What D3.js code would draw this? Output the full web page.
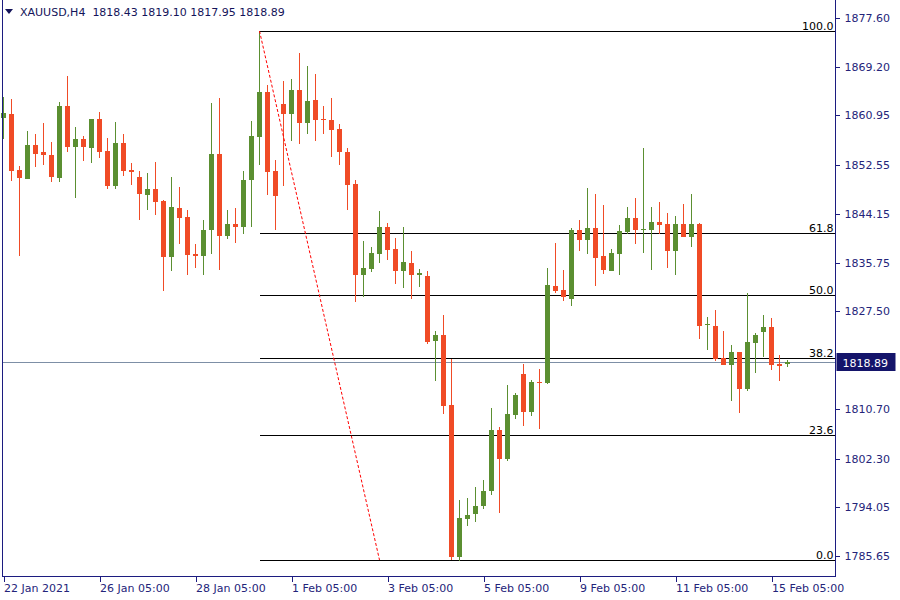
<!DOCTYPE html>
<html><head><meta charset="utf-8">
<script src="https://cdn.jsdelivr.net/npm/d3@7"></script>
<style>
html,body{margin:0;padding:0;background:#fff;}
svg{display:block;font-family:"DejaVu Sans",Tahoma,sans-serif;}
</style></head>
<body><svg id="c" width="900" height="600"></svg>
<script>
const symbol = "XAUUSD,H4";
const open = [
1860.56,1861.19,1851.6,1850.1,1855.9,1854.7,1854.2,1850.3,1862.6,1855.6,
1856.9,1855.3,1860.3,1854.9,1848.9,1856.2,1851.6,1850.4,1847.4,1848.4,
1846.4,1836.8,1845.1,1843.6,1837.3,1837.0,1841.3,1854.4,1840.4,1842.4,
1841.8,1849.9,1857.3,1865.0,1851.4,1862.9,1861.2,1865.3,1859.7,1863.6,
1860.3,1860.2,1858.7,1854.7,1849.2,1833.7,1834.7,1837.3,1841.9,1838.1,
1834.4,1835.7,1833.6,1833.5,1822.4,1823.4,1811.5,1785.4,1792.0,1792.9,
1794.2,1796.8,1807.2,1802.3,1809.8,1816.8,1810.3,1815.4,1815.2,1831.8,
1831.1,1829.5,1841.4,1839.7,1841.7,1836.9,1834.4,1837.3,1841.1,1843.4,
1841.3,1841.3,1842.7,1842.4,1837.7,1842.4,1840.2,1842.4,1825.1,1825.0,
1819.5,1818.3,1820.5,1814.2,1822.1,1824.0,1824.8,1818.5,1818.43];
const high = [
1864.1,1863.8,1852.3,1858.3,1857.8,1859.7,1856.4,1863.2,1867.7,1859.0,
1857.4,1860.4,1861.5,1857.1,1859.8,1857.8,1852.8,1851.5,1851.1,1853.0,
1846.5,1850.4,1848.7,1844.8,1839.0,1843.1,1863.1,1863.9,1844.8,1845.1,
1851.5,1860.0,1875.38,1866.1,1853.3,1866.8,1867.2,1871.6,1869.4,1868.0,
1862.6,1863.9,1859.5,1855.4,1849.9,1839.5,1838.5,1844.6,1842.6,1840.0,
1841.9,1837.8,1834.7,1834.4,1824.1,1826.8,1819.3,1795.2,1795.6,1797.4,
1798.6,1810.9,1807.7,1814.9,1813.5,1818.5,1815.7,1817.6,1834.9,1839.1,
1834.5,1841.7,1843.1,1848.5,1847.5,1845.6,1838.1,1842.2,1845.3,1846.8,
1855.4,1845.3,1846.2,1844.3,1843.8,1845.8,1847.5,1842.6,1826.5,1827.7,
1824.1,1821.7,1820.6,1830.6,1823.8,1826.8,1826.3,1820.0,1819.10];
const low = [
1856.9,1849.8,1837.0,1850.0,1852.2,1852.5,1849.5,1849.6,1854.7,1846.9,
1853.2,1852.9,1853.6,1848.3,1848.4,1850.6,1849.1,1843.0,1844.8,1844.0,
1831.0,1834.4,1838.9,1833.6,1834.8,1833.7,1837.3,1834.6,1839.9,1839.2,
1840.6,1841.9,1852.5,1847.3,1841.3,1848.9,1856.6,1856.1,1857.7,1856.5,
1857.8,1853.9,1852.4,1844.7,1829.1,1830.0,1834.2,1835.8,1836.3,1832.2,
1831.5,1829.5,1831.7,1821.8,1815.6,1810.0,1784.97,1784.8,1790.8,1791.5,
1793.6,1796.0,1793.0,1801.9,1809.1,1807.9,1809.6,1807.4,1815.0,1830.6,
1829.3,1828.4,1837.8,1837.3,1831.8,1833.9,1834.4,1833.7,1840.7,1838.9,
1837.5,1834.6,1840.6,1834.9,1833.7,1840.2,1838.5,1822.8,1820.9,1819.0,
1818.3,1812.2,1810.1,1813.9,1817.0,1819.7,1817.5,1815.6,1817.95];
const close = [
1861.36,1851.5,1850.3,1855.9,1854.4,1854.1,1850.5,1862.6,1855.6,1856.9,
1855.6,1860.3,1854.7,1848.9,1856.2,1851.5,1851.2,1847.6,1848.4,1846.2,
1836.8,1845.3,1843.5,1837.1,1837.0,1841.4,1854.4,1840.4,1842.4,1841.8,
1849.9,1857.4,1865.0,1851.3,1847.1,1861.2,1865.3,1859.7,1863.4,1860.2,
1860.2,1858.5,1854.7,1849.1,1833.7,1834.9,1837.4,1841.9,1838.0,1834.4,
1835.9,1833.6,1834.0,1822.2,1823.4,1811.3,1785.4,1792.1,1792.7,1794.2,
1796.8,1807.2,1802.3,1809.9,1813.2,1810.3,1815.4,1815.2,1832.0,1831.0,
1830.0,1841.4,1839.7,1841.7,1836.6,1834.6,1837.4,1841.2,1843.4,1841.3,
1841.5,1842.7,1842.3,1837.7,1842.4,1840.2,1842.4,1825.0,1825.3,1819.4,
1818.3,1820.5,1814.2,1822.2,1823.4,1824.8,1818.3,1818.2,1818.89];
const priceTicks = [1877.60,1869.20,1860.95,1852.55,1844.15,1835.75,1827.50,1810.70,1802.30,1794.05,1785.65];
const timeTickIndex = [0,12,24,36,48,60,72,84,96];
const timeTickLabels = ["22 Jan 2021","26 Jan 05:00","28 Jan 05:00","1 Feb 05:00","3 Feb 05:00","5 Feb 05:00","9 Feb 05:00","11 Feb 05:00","15 Feb 05:00"];
const fibLevels = [0, 23.6, 38.2, 50.0, 61.8, 100.0];
const fibHigh = 1875.38, fibLow = 1784.97;
const fibStartIndex = 32, fibEndIndex = 47;

(function () {
const bull = "#5b8f31", bear = "#f04b26", navy = "#1c1c80", txt = "#24247a";
const svg = d3.select("#c");
const pLeft = 2, pRight = 835.5, pBottom = 576.5;
const n = close.length;
const x = d3.scaleLinear().domain([0, n - 1]).range([3.5, 3.5 + 8 * (n - 1)]);
const y = d3.scaleLinear().domain([1785.65, 1877.60]).range([556, 18]);

// fib lines
const fibX0 = x(fibStartIndex);
const gF = svg.append("g");
fibLevels.forEach(l => {
  const p = fibLow + (fibHigh - fibLow) * l / 100;
  const yy = Math.round(y(p)) + 0.5;
  gF.append("line").attr("x1", fibX0).attr("x2", pRight).attr("y1", yy).attr("y2", yy)
    .attr("stroke", "#000").attr("stroke-width", 1).attr("shape-rendering", "crispEdges");
  gF.append("text").attr("x", pRight - 2).attr("y", yy - 2).attr("text-anchor", "end")
    .attr("font-size", 11).attr("fill", "#000").text(l.toFixed(1));
});
// current price line
const lastY = Math.round(y(close[n - 1])) + 0.5;
svg.append("line").attr("x1", pLeft).attr("x2", pRight).attr("y1", lastY).attr("y2", lastY)
  .attr("stroke", "#7d8fa6").attr("stroke-width", 1).attr("shape-rendering", "crispEdges");

// candles
const g = svg.append("g").attr("shape-rendering", "crispEdges");
d3.range(n).forEach(i => {
  const c = close[i] >= open[i] ? bull : bear;
  const cx = x(i);
  const yh = Math.round(y(high[i])), yl = Math.round(y(low[i]));
  g.append("rect").attr("x", cx - 0.5).attr("width", 1).attr("y", yh).attr("height", Math.max(1, yl - yh)).attr("fill", c);
  const yo = Math.round(y(open[i])), yc = Math.round(y(close[i]));
  g.append("rect").attr("x", cx - 2.5).attr("width", 5).attr("y", Math.min(yo, yc))
    .attr("height", Math.max(1, Math.abs(yo - yc))).attr("fill", c);
});

// fib dashed trend line
svg.append("line").attr("x1", x(fibStartIndex)).attr("y1", y(fibHigh))
  .attr("x2", x(fibEndIndex)).attr("y2", y(fibLow))
  .attr("stroke", "#ff0000").attr("stroke-width", 1).attr("stroke-dasharray", "3,2");

// frame
svg.append("path").attr("d", `M${pLeft + 0.5},0 V${pBottom} H${pRight} V0`)
  .attr("fill", "none").attr("stroke", navy).attr("stroke-width", 1).attr("shape-rendering", "crispEdges");

// right axis
const ay = svg.append("g").attr("transform", `translate(${pRight},0)`)
  .call(d3.axisRight(y).tickValues(priceTicks).tickFormat(d3.format(".2f")).tickSize(4).tickPadding(5));
ay.select(".domain").remove();
ay.selectAll("line").attr("stroke", navy).attr("shape-rendering", "crispEdges");
ay.selectAll("text").attr("fill", txt).attr("font-size", 11).attr("font-family", "DejaVu Sans");

// bottom axis
const ax = svg.append("g").attr("transform", `translate(0,${pBottom})`)
  .call(d3.axisBottom(x).tickValues(timeTickIndex).tickFormat((d, i) => timeTickLabels[i]).tickSize(5).tickPadding(3));
ax.select(".domain").remove();
ax.selectAll("line").attr("stroke", navy).attr("shape-rendering", "crispEdges");
ax.selectAll("text").attr("fill", txt).attr("font-size", 11).attr("text-anchor", "start").attr("font-family", "DejaVu Sans");

// current price label
svg.append("rect").attr("x", pRight + 1).attr("y", lastY - 9.5).attr("width", 59).attr("height", 18).attr("fill", "#14146a");
svg.append("text").attr("x", pRight + 7).attr("y", lastY + 4).attr("fill", "#fff").attr("font-size", 11)
  .text(close[n - 1].toFixed(2));

// header
svg.append("path").attr("d", "M5,9 L13,9 L9,14 Z").attr("fill", "#14145a");
svg.append("text").attr("x", 20).attr("y", 16).attr("font-size", 11).attr("fill", "#14145a")
  .style("white-space", "pre")
  .text(`${symbol}  ${open[n-1].toFixed(2)} ${high[n-1].toFixed(2)} ${low[n-1].toFixed(2)} ${close[n-1].toFixed(2)}`);
})();
</script></body></html>
